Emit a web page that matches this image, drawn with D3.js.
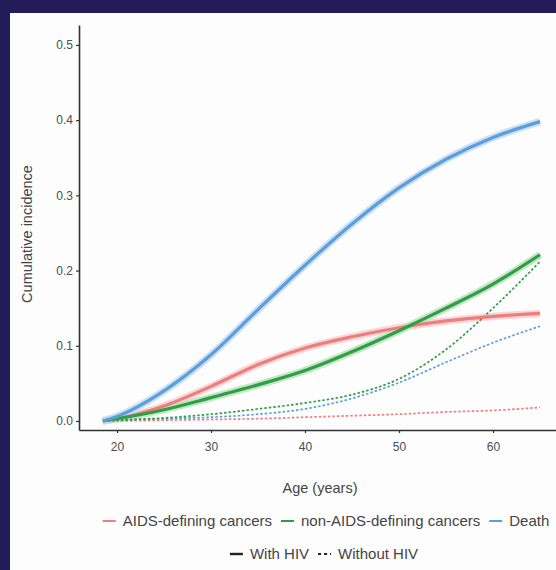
<!DOCTYPE html>
<html>
<head>
<meta charset="utf-8">
<script src="https://cdn.jsdelivr.net/npm/d3@7/dist/d3.min.js"></script>
<style>
  html, body { margin: 0; padding: 0; background: #231c58; }
  svg { display: block; }
  text { font-family: "Liberation Sans", Arial, sans-serif; }
</style>
</head>
<body>
<svg id="chart" width="556" height="570"></svg>
<script>
// ---- data ----
const ages = [18.5, 20, 25, 30, 35, 40, 45, 50, 55, 60, 65];
const aidsHIV     = [0, 0.003, 0.020, 0.046, 0.075, 0.097, 0.112, 0.124, 0.133, 0.139, 0.143];
const nonAidsHIV  = [0, 0.003, 0.015, 0.031, 0.048, 0.067, 0.092, 0.120, 0.150, 0.182, 0.221];
const deathHIV    = [0, 0.006, 0.040, 0.088, 0.148, 0.207, 0.262, 0.310, 0.348, 0.377, 0.398];
const aidsNoHIV    = [0, 0.000, 0.001, 0.002, 0.003, 0.005, 0.007, 0.009, 0.012, 0.014, 0.018];
const nonAidsNoHIV = [0, 0.001, 0.004, 0.009, 0.016, 0.024, 0.035, 0.056, 0.095, 0.150, 0.212];
const deathNoHIV   = [0, 0.001, 0.003, 0.005, 0.009, 0.016, 0.030, 0.051, 0.078, 0.104, 0.126];
const xTicks = [20, 30, 40, 50, 60];
const yTicks = [0.0, 0.1, 0.2, 0.3, 0.4, 0.5];
const outcomes = ["AIDS-defining cancers", "non-AIDS-defining cancers", "Death"];
const groups = ["With HIV", "Without HIV"];

// ---- styles ----
const core = { "AIDS-defining cancers": "#ee7d7d", "non-AIDS-defining cancers": "#2f9e44", "Death": "#5b9edb" };
const halo = { "AIDS-defining cancers": "#f9d2d2", "non-AIDS-defining cancers": "#bfe3c0", "Death": "#c6ddf4" };

const series = [
  { outcome: outcomes[0], group: groups[1], vals: aidsNoHIV },
  { outcome: outcomes[2], group: groups[1], vals: deathNoHIV },
  { outcome: outcomes[1], group: groups[1], vals: nonAidsNoHIV },
  { outcome: outcomes[0], group: groups[0], vals: aidsHIV },
  { outcome: outcomes[1], group: groups[0], vals: nonAidsHIV },
  { outcome: outcomes[2], group: groups[0], vals: deathHIV }
];

const svg = d3.select("#chart");
svg.append("rect").attr("x", 0).attr("y", 0).attr("width", 556).attr("height", 570).attr("fill", "#231c58");
svg.append("rect").attr("x", 10).attr("y", 13).attr("width", 546).attr("height", 557).attr("fill", "#fdfdfd");

const x = d3.scaleLinear().domain([15.96, 66.7]).range([79, 556]);
const y = d3.scaleLinear().domain([-0.012, 0.5265]).range([430, 25]);

const line = d3.line().x(d => x(d[0])).y(d => y(d[1])).curve(d3.curveMonotoneX);

const plot = svg.append("g");
// halos (confidence ribbons) for solid lines
series.filter(s => s.group === groups[0]).forEach(s => {
  plot.append("path")
    .datum(ages.map((a, i) => [a, s.vals[i]]))
    .attr("d", line).attr("fill", "none")
    .attr("stroke", halo[s.outcome]).attr("stroke-width", 7.5)
    .attr("stroke-linecap", "butt").attr("opacity", 0.9);
});
series.forEach(s => {
  const solid = s.group === groups[0];
  plot.append("path")
    .datum(ages.map((a, i) => [a, s.vals[i]]))
    .attr("d", line).attr("fill", "none")
    .attr("stroke", core[s.outcome])
    .attr("stroke-width", solid ? 3.2 : 1.7)
    .attr("stroke-dasharray", solid ? null : "2.5,2")
    .attr("stroke-linecap", "butt");
});

// axes
const yAxis = svg.append("g").attr("transform", "translate(79,0)")
  .call(d3.axisLeft(y).tickValues(yTicks).tickFormat(d3.format(".1f")).tickSize(3).tickSizeOuter(0));
const xAxis = svg.append("g").attr("transform", "translate(0,430)")
  .call(d3.axisBottom(x).tickValues(xTicks).tickFormat(d3.format("d")).tickSize(3).tickSizeOuter(0));
[yAxis, xAxis].forEach(g => {
  g.select(".domain").attr("stroke", "#333").attr("stroke-width", 1.6);
  g.selectAll(".tick line").attr("stroke", "#333").attr("stroke-width", 1.2);
  g.selectAll(".tick text").attr("fill", "#4d4d4d").style("font-size", "12px")
    .style("font-family", "'Liberation Sans', Arial, sans-serif");
});
yAxis.selectAll(".tick text").attr("x", -6);
xAxis.selectAll(".tick text").attr("y", 12);

// axis titles
svg.append("text").attr("transform", "translate(32,234) rotate(-90)")
  .attr("text-anchor", "middle").attr("fill", "#444").style("font-size", "14.5px")
  .text("Cumulative incidence");
svg.append("text").attr("x", 320).attr("y", 493)
  .attr("text-anchor", "middle").attr("fill", "#444").style("font-size", "14.5px")
  .text("Age (years)");

// legends
function legendRow(items, cy, cx) {
  const g = svg.append("g");
  let pos = 0;
  items.forEach(it => {
    const ig = g.append("g").attr("transform", `translate(${pos},0)`);
    ig.append("line").attr("x1", 0).attr("x2", 13).attr("y1", cy).attr("y2", cy)
      .attr("stroke", it.color).attr("stroke-width", it.width)
      .attr("stroke-dasharray", it.dash);
    const t = ig.append("text").attr("x", 20).attr("y", cy + 5)
      .attr("fill", "#444").style("font-size", "15px").text(it.label);
    pos += 20 + t.node().getComputedTextLength() + 9;
  });
  const w = pos - 9;
  g.attr("transform", `translate(${cx - w / 2},0)`);
}
legendRow(outcomes.map(o => ({ label: o, color: core[o], width: 2, dash: null })), 521, 326);
legendRow([
  { label: groups[0], color: "#222", width: 2.4, dash: null },
  { label: groups[1], color: "#222", width: 2, dash: "3,3" }
], 554, 324);
</script>
</body>
</html>
